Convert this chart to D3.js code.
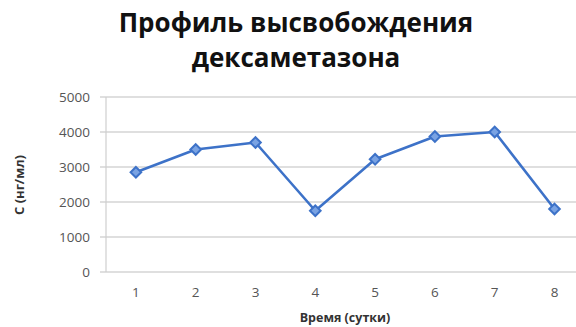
<!DOCTYPE html>
<html>
<head>
<meta charset="utf-8">
<script src="https://cdn.jsdelivr.net/npm/d3@7"></script>
<style>
  html, body { margin: 0; padding: 0; background: #fff; }
  svg { display: block; }
</style>
</head>
<body>
<svg id="chart" width="576" height="327"></svg>
<script>
// Release profile of dexamethasone, concentration per day
const days = ["1", "2", "3", "4", "5", "6", "7", "8"];
const concentration = [2850, 3500, 3700, 1750, 3220, 3870, 4000, 1800];
const yTicks = [0, 1000, 2000, 3000, 4000, 5000];
const titleLines = ["Профиль высвобождения", "дексаметазона"];
const xTitle = "Время (сутки)";
const yTitle = "С (нг/мл)";

const svg = d3.select("#chart");
const margin = { left: 106, top: 97, bottom: 272 };
const bandW = 59.8;

const x = d3.scaleBand()
  .domain(days)
  .range([margin.left, margin.left + bandW * days.length]);

const y = d3.scaleLinear()
  .domain([0, 5000])
  .range([margin.bottom, margin.top]);

const font = "'Open Sans', 'DejaVu Sans', sans-serif";

// horizontal gridlines
svg.append("g")
  .selectAll("line")
  .data(yTicks)
  .join("line")
  .attr("x1", margin.left - 6)
  .attr("x2", x.range()[1])
  .attr("y1", d => y(d))
  .attr("y2", d => y(d))
  .attr("stroke", "#d4d4d4")
  .attr("stroke-width", 1.5);

// vertical axis line
svg.append("line")
  .attr("x1", margin.left).attr("x2", margin.left)
  .attr("y1", y(5000)).attr("y2", y(0))
  .attr("stroke", "#cfcfcf")
  .attr("stroke-width", 1.2);

// y tick labels
const yAxis = d3.axisLeft(y).tickValues(yTicks).tickSize(0).tickPadding(16).tickFormat(d3.format("d"));
const gy = svg.append("g").attr("transform", `translate(${margin.left},0)`).call(yAxis);
gy.select(".domain").remove();
gy.selectAll("text")
  .attr("font-family", font)
  .attr("font-size", 13.5)
  .attr("fill", "#555");

// x tick labels
const xAxis = d3.axisBottom(x).tickSize(0).tickPadding(15);
const gx = svg.append("g").attr("transform", `translate(0,${margin.bottom})`).call(xAxis);
gx.select(".domain").remove();
gx.selectAll("text")
  .attr("font-family", font)
  .attr("font-size", 13.5)
  .attr("fill", "#555");

// data line
const cx = d => x(d) + x.bandwidth() / 2;
const line = d3.line()
  .x((d, i) => cx(days[i]))
  .y(d => y(d));

svg.append("path")
  .datum(concentration)
  .attr("d", line)
  .attr("fill", "none")
  .attr("stroke", "#3d72c8")
  .attr("stroke-width", 2.6)
  .attr("stroke-linejoin", "round");

// diamond markers
const diamond = d3.symbol().type(d3.symbolDiamond2).size(72);
svg.append("g")
  .selectAll("path")
  .data(concentration)
  .join("path")
  .attr("d", diamond)
  .attr("transform", (d, i) => `translate(${cx(days[i])},${y(d)})`)
  .attr("fill", "#7aa3e3")
  .attr("stroke", "#3d72c8")
  .attr("stroke-width", 2);

// title
svg.append("text")
  .attr("x", 296)
  .attr("font-family", font)
  .attr("font-weight", 700)
  .attr("font-size", 26)
  .attr("fill", "#111")
  .attr("text-anchor", "middle")
  .selectAll("tspan")
  .data(titleLines)
  .join("tspan")
  .attr("x", 296)
  .attr("y", (d, i) => 32 + i * 35)
  .text(d => d);

// axis titles
svg.append("text")
  .attr("x", 345)
  .attr("y", 322)
  .attr("text-anchor", "middle")
  .attr("font-family", font)
  .attr("font-weight", 700)
  .attr("font-size", 12.5)
  .attr("fill", "#333")
  .text(xTitle);

svg.append("text")
  .attr("transform", "translate(24,185) rotate(-90)")
  .attr("text-anchor", "middle")
  .attr("font-family", font)
  .attr("font-weight", 700)
  .attr("font-size", 13)
  .attr("fill", "#333")
  .text(yTitle);
</script>
</body>
</html>
